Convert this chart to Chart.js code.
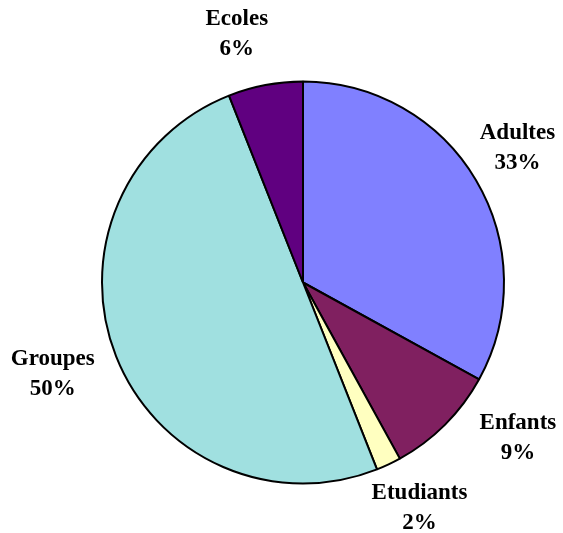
<!DOCTYPE html>
<html>
<head>
<meta charset="utf-8">
<script src="https://cdn.jsdelivr.net/npm/chart.js@4.4.0/dist/chart.umd.min.js"></script>
<style>
  html, body { margin: 0; padding: 0; background: #fff; }
  #wrap { width: 563px; height: 533px; }
</style>
</head>
<body>
<div id="wrap"><canvas id="pie" width="563" height="533"></canvas></div>
<script>
// Répartition des visiteurs
const categories = ['Adultes', 'Enfants', 'Etudiants', 'Groupes', 'Ecoles'];
const shares = [33, 9, 2, 50, 6];
const sliceColors = ['#8080FF', '#802060', '#FFFFC0', '#A0E0E0', '#600080'];

// label distance from centre, as a multiple of the radius, plus small hand nudges (px)
const LABEL_DIST = 1.28;
const labelNudge = [[-7, -3], [33, -26], [7, -7], [-11, -3], [-18, 4]];

// Excel-like labels: name on one line, percentage below
const outsideLabels = {
    id: 'outsideLabels',
    afterDatasetsDraw(chart) {
        const ctx = chart.ctx;
        const meta = chart.getDatasetMeta(0);
        ctx.save();
        ctx.fillStyle = '#000';
        ctx.font = 'bold 23px "Liberation Serif", serif';
        ctx.textAlign = 'center';
        ctx.textBaseline = 'middle';
        meta.data.forEach((arc, i) => {
            const p = arc.getProps(['x', 'y', 'startAngle', 'endAngle', 'outerRadius'], true);
            const mid = (p.startAngle + p.endAngle) / 2;
            const lx = p.x + Math.cos(mid) * p.outerRadius * LABEL_DIST + labelNudge[i][0];
            const ly = p.y + Math.sin(mid) * p.outerRadius * LABEL_DIST + labelNudge[i][1];
            ctx.fillText(categories[i], lx, ly - 15);
            ctx.fillText(shares[i] + '%', lx, ly + 15);
        });
        ctx.restore();
    }
};

new Chart(document.getElementById('pie'), {
    type: 'pie',
    data: {
        labels: categories,
        datasets: [{
            data: shares,
            backgroundColor: sliceColors,
            borderColor: '#000',
            borderWidth: 2,
            hoverOffset: 0,
            offset: 0
        }]
    },
    options: {
        responsive: false,
        animation: false,
        events: [],
        layout: { padding: { left: 101, right: 58, top: 80, bottom: 48 } },
        plugins: {
            legend: { display: false },
            tooltip: { enabled: false }
        }
    },
    plugins: [outsideLabels]
});
</script>
</body>
</html>
